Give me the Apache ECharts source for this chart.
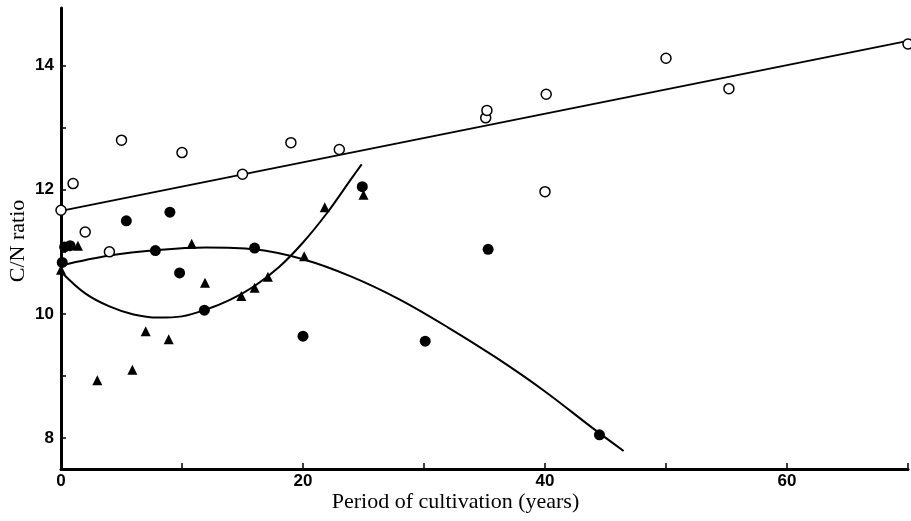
<!DOCTYPE html>
<html>
<head>
<meta charset="utf-8">
<script src="https://cdn.jsdelivr.net/npm/echarts@6/dist/echarts.min.js"></script>
<style>
html,body{margin:0;padding:0;background:#fff;}
#chart{width:911px;height:521px;}
</style>
</head>
<body>
<div id="chart"></div>
<script>
// Open circles
var openPts = [[0,11.67],[1,12.1],[2,11.32],[4,11.0],[5,12.8],[10,12.6],[15,12.25],[19,12.76],[23,12.65],[35.1,13.16],[35.2,13.28],[40,11.97],[40.1,13.54],[50,14.12],[55.2,13.63],[70,14.35]];
// Filled circles
var filledPts = [[0.1,10.83],[0.3,11.08],[0.75,11.1],[5.4,11.5],[7.8,11.02],[9,11.64],[9.8,10.66],[11.85,10.06],[16,11.06],[20,9.64],[24.9,12.05],[30.1,9.56],[35.3,11.04],[44.5,8.05]];
// Filled triangles
var trianglePts = [[0,10.71],[1.4,11.1],[3,8.93],[5.9,9.1],[7,9.72],[8.9,9.59],[10.8,11.13],[11.9,10.5],[14.9,10.29],[16,10.42],[17.1,10.6],[20.1,10.93],[21.8,11.72],[25,11.92]];
// Fitted curves
var openLine = [[0,11.66],[70,14.40]];
var filledCurve = [[0,10.78],[4,10.94],[8,11.03],[12,11.07],[16,11.04],[20,10.88],[24,10.6],[28,10.23],[32,9.78],[36,9.29],[40,8.75],[44,8.15],[46.5,7.79]];
var triangleCurve = [[0,10.68],[2,10.33],[4,10.12],[6,9.99],[8,9.94],[10,9.96],[12,10.07],[14,10.23],[16,10.45],[18,10.75],[20,11.15],[22,11.63],[24,12.18],[24.85,12.41]];
// Axis labels
var xTickLabels = [0,20,40,60];
var yTickLabels = [8,10,12,14];
var yTicks = [8,9,10,11,12,13,14];
var xTitle = 'Period of cultivation (years)';
var yTitle = 'C/N ratio';

var chart = echarts.init(document.getElementById('chart'));
var lineStyle = {color:'#000', width:2};
chart.setOption({
  animation:false,
  backgroundColor:'#fff',
  grid:{left:61,right:3,top:8,bottom:52},
  xAxis:{
    type:'value',min:0,max:70,interval:10,
    axisLine:{lineStyle:{color:'#000',width:3}},
    axisTick:{inside:true,length:6,lineStyle:{color:'#000',width:1.5}},
    axisLabel:{
      color:'#000',fontFamily:'Liberation Sans',fontWeight:'bold',fontSize:17,margin:4,
      formatter:function(v){return xTickLabels.indexOf(v)>=0?String(v):'';}
    },
    splitLine:{show:false}
  },
  yAxis:{
    type:'value',min:7.5,max:14.93,
    axisLine:{show:true,lineStyle:{color:'#000',width:3}},
    axisTick:{show:true,inside:true,length:5,customValues:yTicks,lineStyle:{color:'#000',width:1.5}},
    axisLabel:{
      color:'#000',fontFamily:'Liberation Sans',fontWeight:'bold',fontSize:17,margin:7,
      customValues:yTickLabels
    },
    splitLine:{show:false}
  },
  graphic:[
    {type:'text',left:'center',top:491,
     style:{text:xTitle,font:'22px "Liberation Serif"',fill:'#000'}},
    {type:'text',x:18,y:241,rotation:Math.PI/2,
     style:{text:yTitle,font:'22px "Liberation Serif"',fill:'#000',align:'center',verticalAlign:'middle'}}
  ],
  series:[
    {type:'line',data:openLine,symbol:'none',lineStyle:lineStyle,silent:true,z:2},
    {type:'line',data:filledCurve,smooth:0.35,symbol:'none',lineStyle:lineStyle,silent:true,z:2},
    {type:'line',data:triangleCurve,smooth:0.35,symbol:'none',lineStyle:lineStyle,silent:true,z:2},
    {type:'scatter',data:openPts,symbol:'circle',symbolSize:10,clip:false,
     itemStyle:{color:'#fff',borderColor:'#000',borderWidth:1.5,opacity:1},z:3},
    {type:'scatter',data:filledPts,symbol:'circle',symbolSize:11,clip:false,
     itemStyle:{color:'#000',opacity:1},z:3},
    {type:'scatter',data:trianglePts,symbol:'triangle',symbolSize:10,clip:false,
     itemStyle:{color:'#000',opacity:1},z:3}
  ]
});
</script>
</body>
</html>
